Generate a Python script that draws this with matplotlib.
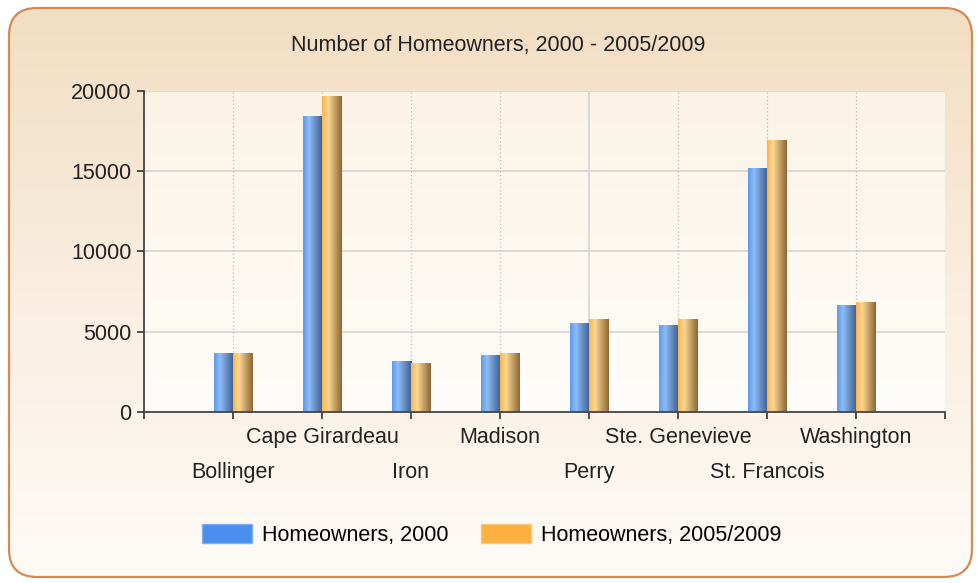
import numpy as np
import matplotlib
matplotlib.use("Agg")
import matplotlib.pyplot as plt
from matplotlib.patches import FancyBboxPatch, Patch
from matplotlib.colors import LinearSegmentedColormap

plt.rcParams['font.family'] = ['Liberation Sans', 'DejaVu Sans']

# data
counties = ["Bollinger", "Cape Girardeau", "Iron", "Madison", "Perry",
            "Ste. Genevieve", "St. Francois", "Washington"]
owners_2000 = [3700, 18450, 3200, 3570, 5560, 5440, 15180, 6690]
owners_2009 = [3700, 19700, 3070, 3690, 5810, 5810, 16930, 6830]
series_names = ["Homeowners, 2000", "Homeowners, 2005/2009"]
yticks = [0, 5000, 10000, 15000, 20000]

W, H = 977, 583
FS = 15.5
fig = plt.figure(figsize=(W / 100, H / 100), dpi=100)
fig.patch.set_facecolor('white')

# rounded frame with vertical gradient
bg = fig.add_axes([0, 0, 1, 1], zorder=-10)
bg.set_xlim(0, W)
bg.set_ylim(0, H)
bg.axis('off')
frame = FancyBboxPatch((9, 6), W - 14, H - 14, boxstyle="round,pad=0,rounding_size=28",
                       facecolor='none', edgecolor='#D48A52', lw=1.6, zorder=3)
bg.add_patch(frame)
frame_cmap = LinearSegmentedColormap.from_list('frame', ['#FEFBF8', '#F9EEE0', '#F2DDC1'])
grad = np.linspace(0, 1, 256).reshape(-1, 1)
im = bg.imshow(grad, cmap=frame_cmap, extent=[0, W, 0, H], origin='lower', aspect='auto', zorder=1)
im.set_clip_path(frame)

# plot area
left, right, top, bottom = 144, 945, 91, 412
ax = fig.add_axes([left / W, (H - bottom) / H, (right - left) / W, (bottom - top) / H])
ax.set_facecolor('none')
plot_cmap = LinearSegmentedColormap.from_list('plot', ['#FFFDFA', '#FBF3E6'])
ax.imshow(grad, cmap=plot_cmap, extent=[0, 9, 0, 20000], origin='lower', aspect='auto', zorder=0)

x = np.arange(1, len(counties) + 1)
bw = 0.215
blue_cmap = LinearSegmentedColormap.from_list('b', [(0, '#5B9AF0'), (0.3, '#8DBDF7'), (1, '#3E5E8C')])
orange_cmap = LinearSegmentedColormap.from_list('o', [(0, '#F9B44C'), (0.3, '#FFD894'), (1, '#8A6836')])
hgrad = np.linspace(0, 1, 64).reshape(1, -1)

for vals, off, cmap, base in [(owners_2000, -bw / 2, blue_cmap, '#4A8FEE'),
                              (owners_2009, bw / 2, orange_cmap, '#FBB040')]:
    bars = ax.bar(x + off, vals, width=bw, color=base, edgecolor='#8A8A8A', lw=0.6, zorder=3)
    for b in bars:
        x0, w, h = b.get_x(), b.get_width(), b.get_height()
        g = ax.imshow(hgrad, cmap=cmap, extent=[x0, x0 + w, 0, h], aspect='auto', zorder=3.5)
        g.set_clip_path(b)

# grid
for yv in yticks[1:]:
    ax.axhline(yv, color='#D4D4D4', lw=1.2, zorder=1)
for xv in range(1, 10):
    if xv == 5:
        ax.axvline(xv, color='#D4D4D4', lw=1.2, zorder=1)
    else:
        ax.axvline(xv, color='#BDBDBD', lw=0.9, ls=(0, (1, 2)), zorder=1)

ax.set_xlim(0, 9)
ax.set_ylim(0, 20000)
ax.set_yticks(yticks)
ax.set_yticklabels([str(v) for v in yticks], fontsize=FS, color='#222222')

# staggered category labels: upper row on major ticks, lower row on minor ticks
upper = [0] + list(x[1::2]) + [9]
lower = list(x[0::2])
ax.set_xticks(upper)
ax.set_xticklabels([''] + counties[1::2] + [''], fontsize=FS, color='#222222')
ax.set_xticks(lower, minor=True)
ax.set_xticklabels(counties[0::2], minor=True, fontsize=FS, color='#222222')
ax.tick_params(axis='both', which='both', length=5, width=1.2, color='#333333')
ax.tick_params(axis='x', which='major', pad=6)
ax.tick_params(axis='x', which='minor', pad=31)
ax.tick_params(axis='y', pad=4)
for s in ['top', 'right']:
    ax.spines[s].set_visible(False)
for s in ['left', 'bottom']:
    ax.spines[s].set_color('#444444')
    ax.spines[s].set_linewidth(1.3)
    ax.spines[s].set_zorder(5)

fig.text(498 / W, 1 - 46 / H, "Number of Homeowners, 2000 - 2005/2009",
         ha='center', va='center', fontsize=FS, color='#222222')

handles = [Patch(facecolor='#4A8FEE', edgecolor='#7FAEF2'),
           Patch(facecolor='#FBB040', edgecolor='#F7C781')]
fig.legend(handles, series_names, loc='center', bbox_to_anchor=(492 / W, 1 - 535 / H),
           ncol=2, frameon=False, fontsize=FS, handlelength=2.3, handleheight=1.0,
           columnspacing=1.5, handletextpad=0.5)

fig.savefig('out.png', dpi=100)
